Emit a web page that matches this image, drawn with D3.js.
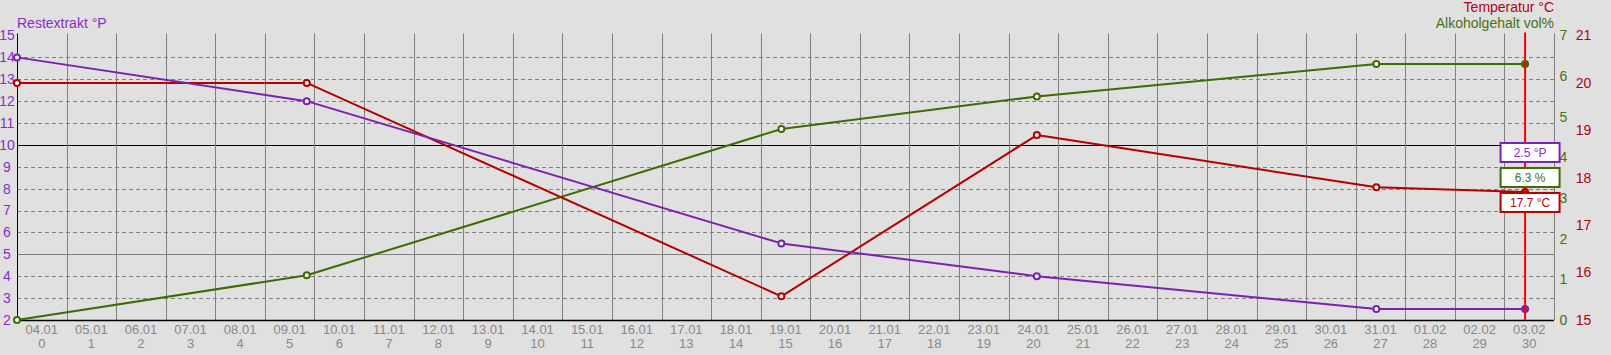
<!DOCTYPE html>
<html>
<head>
<meta charset="utf-8">
<script src="https://cdn.jsdelivr.net/npm/d3@7"></script>
<style>
  html, body { margin: 0; padding: 0; background: #e0e0e0; }
  svg { display: block; font-family: Arial, "Liberation Sans", sans-serif; }
</style>
</head>
<body>
<svg id="chart" width="1611" height="355"></svg>
<script>
// ---- data ----
const times = ["2024-01-04T00:00", "2024-01-09T20:15", "2024-01-19T10:00", "2024-01-24T13:40", "2024-01-31T10:00", "2024-02-03T10:00"];
const restextrakt = [14, 12, 5.5, 4, 2.5, 2.5];
const temperatur = [20, 20, 15.5, 18.9, 17.8, 17.7];
const alkohol = [0, 1.1, 4.7, 5.5, 6.3, 6.3];
const leftTicks = [2, 3, 4, 5, 6, 7, 8, 9, 10, 11, 12, 13, 14, 15];
const alcTicks = [0, 1, 2, 3, 4, 5, 6, 7];
const tempTicks = [15, 16, 17, 18, 19, 20, 21];
const startDay = "2024-01-04T00:00";
const endDay = "2024-02-04T00:00";
const boxLabels = ["2.5 °P", "6.3 %", "17.7 °C"];

// ---- setup ----
const parse = d3.timeParse("%Y-%m-%dT%H:%M");
const dates = times.map(parse);
const x0 = parse(startDay), x1 = parse(endDay);
const svg = d3.select("#chart");
const L = 17, R = 1554, T = 35.5, B = 320;

const x = d3.scaleTime().domain([x0, x1]).range([L, R]);
const yL = d3.scaleLinear().domain([2, 15]).range([B, T]);
const yA = d3.scaleLinear().domain([0, 7]).range([B, T]);
const yT = d3.scaleLinear().domain([15, 21]).range([B, T]);

const cPurple = "#7a22b0", cRed = "#b40000", cGreen = "#3f6b00";
const cPurpleTxt = "#8a2ccc", cRedTxt = "#b00018", cGreenTxt = "#4a7010";

const days = d3.timeDay.range(x0, x1);

// horizontal grid
const g = svg.append("g");
g.selectAll("line.h").data(leftTicks.filter(v => v !== 2 && v !== 15)).join("line")
  .attr("x1", L).attr("x2", R)
  .attr("y1", d => Math.round(yL(d)) + 0.5).attr("y2", d => Math.round(yL(d)) + 0.5)
  .attr("stroke", d => d === 10 ? "#000" : "#808080")
  .attr("stroke-width", 1)
  .attr("stroke-dasharray", d => (d === 10 || d === 5) ? null : "4,3");

// vertical grid
g.selectAll("line.v").data(days.slice(1).concat([x1])).join("line")
  .attr("x1", d => Math.round(x(d)) + 0.5).attr("x2", d => Math.round(x(d)) + 0.5)
  .attr("y1", T - 2).attr("y2", B)
  .attr("stroke", "#808080").attr("stroke-width", 1);

// axes lines
svg.append("line").attr("x1", L + 0.5).attr("x2", L + 0.5).attr("y1", T - 2).attr("y2", B).attr("stroke", "#000");
svg.append("line").attr("x1", L).attr("x2", R).attr("y1", B + 0.5).attr("y2", B + 0.5).attr("stroke", "#000").attr("stroke-width", 1.5);

// left tick labels
svg.append("g").selectAll("text").data(leftTicks).join("text")
  .attr("x", 7).attr("y", d => yL(d)).attr("dy", "0.35em")
  .attr("text-anchor", "middle").attr("font-size", 14).attr("fill", cPurpleTxt)
  .text(d => d);

// right tick labels
svg.append("g").selectAll("text").data(alcTicks).join("text")
  .attr("x", 1563.5).attr("y", d => yA(d)).attr("dy", "0.35em")
  .attr("text-anchor", "middle").attr("font-size", 14).attr("fill", cGreenTxt)
  .text(d => d);
svg.append("g").selectAll("text").data(tempTicks).join("text")
  .attr("x", 1583.5).attr("y", d => yT(d)).attr("dy", "0.35em")
  .attr("text-anchor", "middle").attr("font-size", 14).attr("fill", cRedTxt)
  .text(d => d);

// x labels
const dayFmt = d3.timeFormat("%d.%m");
const xl = svg.append("g");
xl.selectAll("text.d").data(days).join("text")
  .attr("x", d => x(d3.timeHour.offset(d, 12))).attr("y", 329.5).attr("dy", "0.35em")
  .attr("text-anchor", "middle").attr("font-size", 13).attr("fill", "#888")
  .text(d => dayFmt(d));
xl.selectAll("text.n").data(days).join("text")
  .attr("x", d => x(d3.timeHour.offset(d, 12))).attr("y", 343.5).attr("dy", "0.35em")
  .attr("text-anchor", "middle").attr("font-size", 13).attr("fill", "#888")
  .text((d, i) => i);

// titles
svg.append("text").attr("x", L).attr("y", 28).attr("font-size", 14).attr("fill", cPurpleTxt).text("Restextrakt °P");
svg.append("text").attr("x", R).attr("y", 12).attr("text-anchor", "end").attr("font-size", 14).attr("fill", cRedTxt).text("Temperatur °C");
svg.append("text").attr("x", R).attr("y", 28).attr("text-anchor", "end").attr("font-size", 14).attr("fill", cGreenTxt).text("Alkoholgehalt vol%");

// current time line
const nowX = x(dates[dates.length - 1]);
svg.append("line").attr("x1", nowX).attr("x2", nowX).attr("y1", T - 3).attr("y2", B)
  .attr("stroke", "#ff0000").attr("stroke-width", 2);

// series
const series = [
  { vals: alkohol, y: yA, color: cGreen },
  { vals: temperatur, y: yT, color: cRed },
  { vals: restextrakt, y: yL, color: cPurple }
];
series.forEach(s => {
  const pts = dates.map((d, i) => [x(d), s.y(s.vals[i])]);
  svg.append("path").attr("d", d3.line()(pts)).attr("fill", "none")
    .attr("stroke", s.color).attr("stroke-width", 2).attr("stroke-linejoin", "round");
  svg.append("g").selectAll("circle").data(pts).join("circle")
    .attr("cx", p => p[0]).attr("cy", p => p[1]).attr("r", 3)
    .attr("fill", (p, i) => i === pts.length - 1 ? "#ff0000" : "#fff")
    .attr("stroke", s.color).attr("stroke-width", 2);
});

// value boxes at current time
const last = dates.length - 1;
const boxW = 59, boxH = 19, gap = 6;
const redTop = yT(temperatur[last]);
const boxes = [
  { text: boxLabels[2], color: cRed, txt: cRedTxt, top: redTop + 1 },
  { text: boxLabels[1], color: cGreen, txt: cGreenTxt, top: redTop + 1 - (boxH + gap) },
  { text: boxLabels[0], color: cPurple, txt: cPurpleTxt, top: redTop + 1 - 2 * (boxH + gap) }
];
const bx = nowX - 24.5;
const bg = svg.append("g").selectAll("g").data(boxes).join("g");
bg.append("rect").attr("x", bx).attr("y", d => d.top).attr("width", boxW).attr("height", boxH)
  .attr("fill", "#fff").attr("stroke", d => d.color).attr("stroke-width", 2);
bg.append("text").attr("x", bx + boxW / 2).attr("y", d => d.top + boxH / 2).attr("dy", "0.35em")
  .attr("text-anchor", "middle").attr("font-size", 12).attr("fill", d => d.txt).text(d => d.text);
</script>
</body>
</html>
